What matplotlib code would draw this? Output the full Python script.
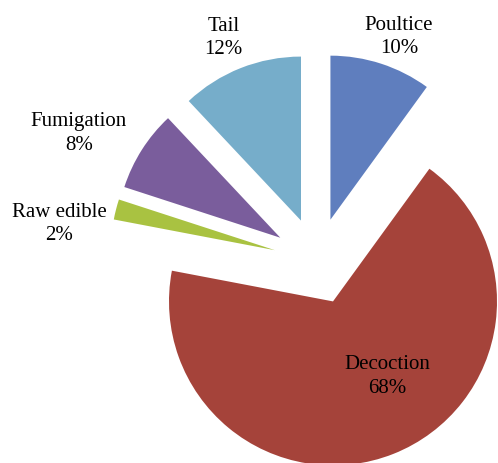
import numpy as np
import matplotlib
matplotlib.use("Agg")
from matplotlib import pyplot as plt

categories = ["Poultice", "Decoction", "Raw edible", "Fumigation", "Tail"]
shares = [10, 68, 2, 8, 12]
colors = ["#5F7EBE", "#A5433A", "#A9C241", "#7A5D9C", "#76ADCA"]

# label placement: (angle tweak in degrees, distance in radii)
label_place = [(-2, 1.46), (10, 0.82), (6, 1.59), (4, 1.65), (1, 1.48)]

plt.rcParams['font.family'] = ['Liberation Serif', 'DejaVu Serif']

fig = plt.figure(figsize=(4.98, 4.64), dpi=100)
ax = fig.add_axes([0, 0, 1, 1])

radius = 164
center = (317, 202)
# pie's explode is an absolute offset, so scale it by the radius
explode = [0.265 * radius] * len(shares)
wedges, _ = ax.pie(shares, colors=colors, startangle=90, counterclock=False,
                   radius=radius, center=center, explode=explode,
                   wedgeprops=dict(linewidth=0))

for w, name, val, (dt, dist) in zip(wedges, categories, shares, label_place):
    mid = np.deg2rad((w.theta1 + w.theta2) / 2 + dt)
    x = center[0] + radius * dist * np.cos(mid)
    y = center[1] + radius * dist * np.sin(mid)
    ax.text(x, y, f"{name}\n{val}%", ha='center', va='center',
            fontsize=15, linespacing=1.32, color='black')

ax.set_xlim(0, 498)
ax.set_ylim(0, 464)
ax.set_aspect('equal')
ax.axis('off')

plt.savefig('out.png', dpi=100)
